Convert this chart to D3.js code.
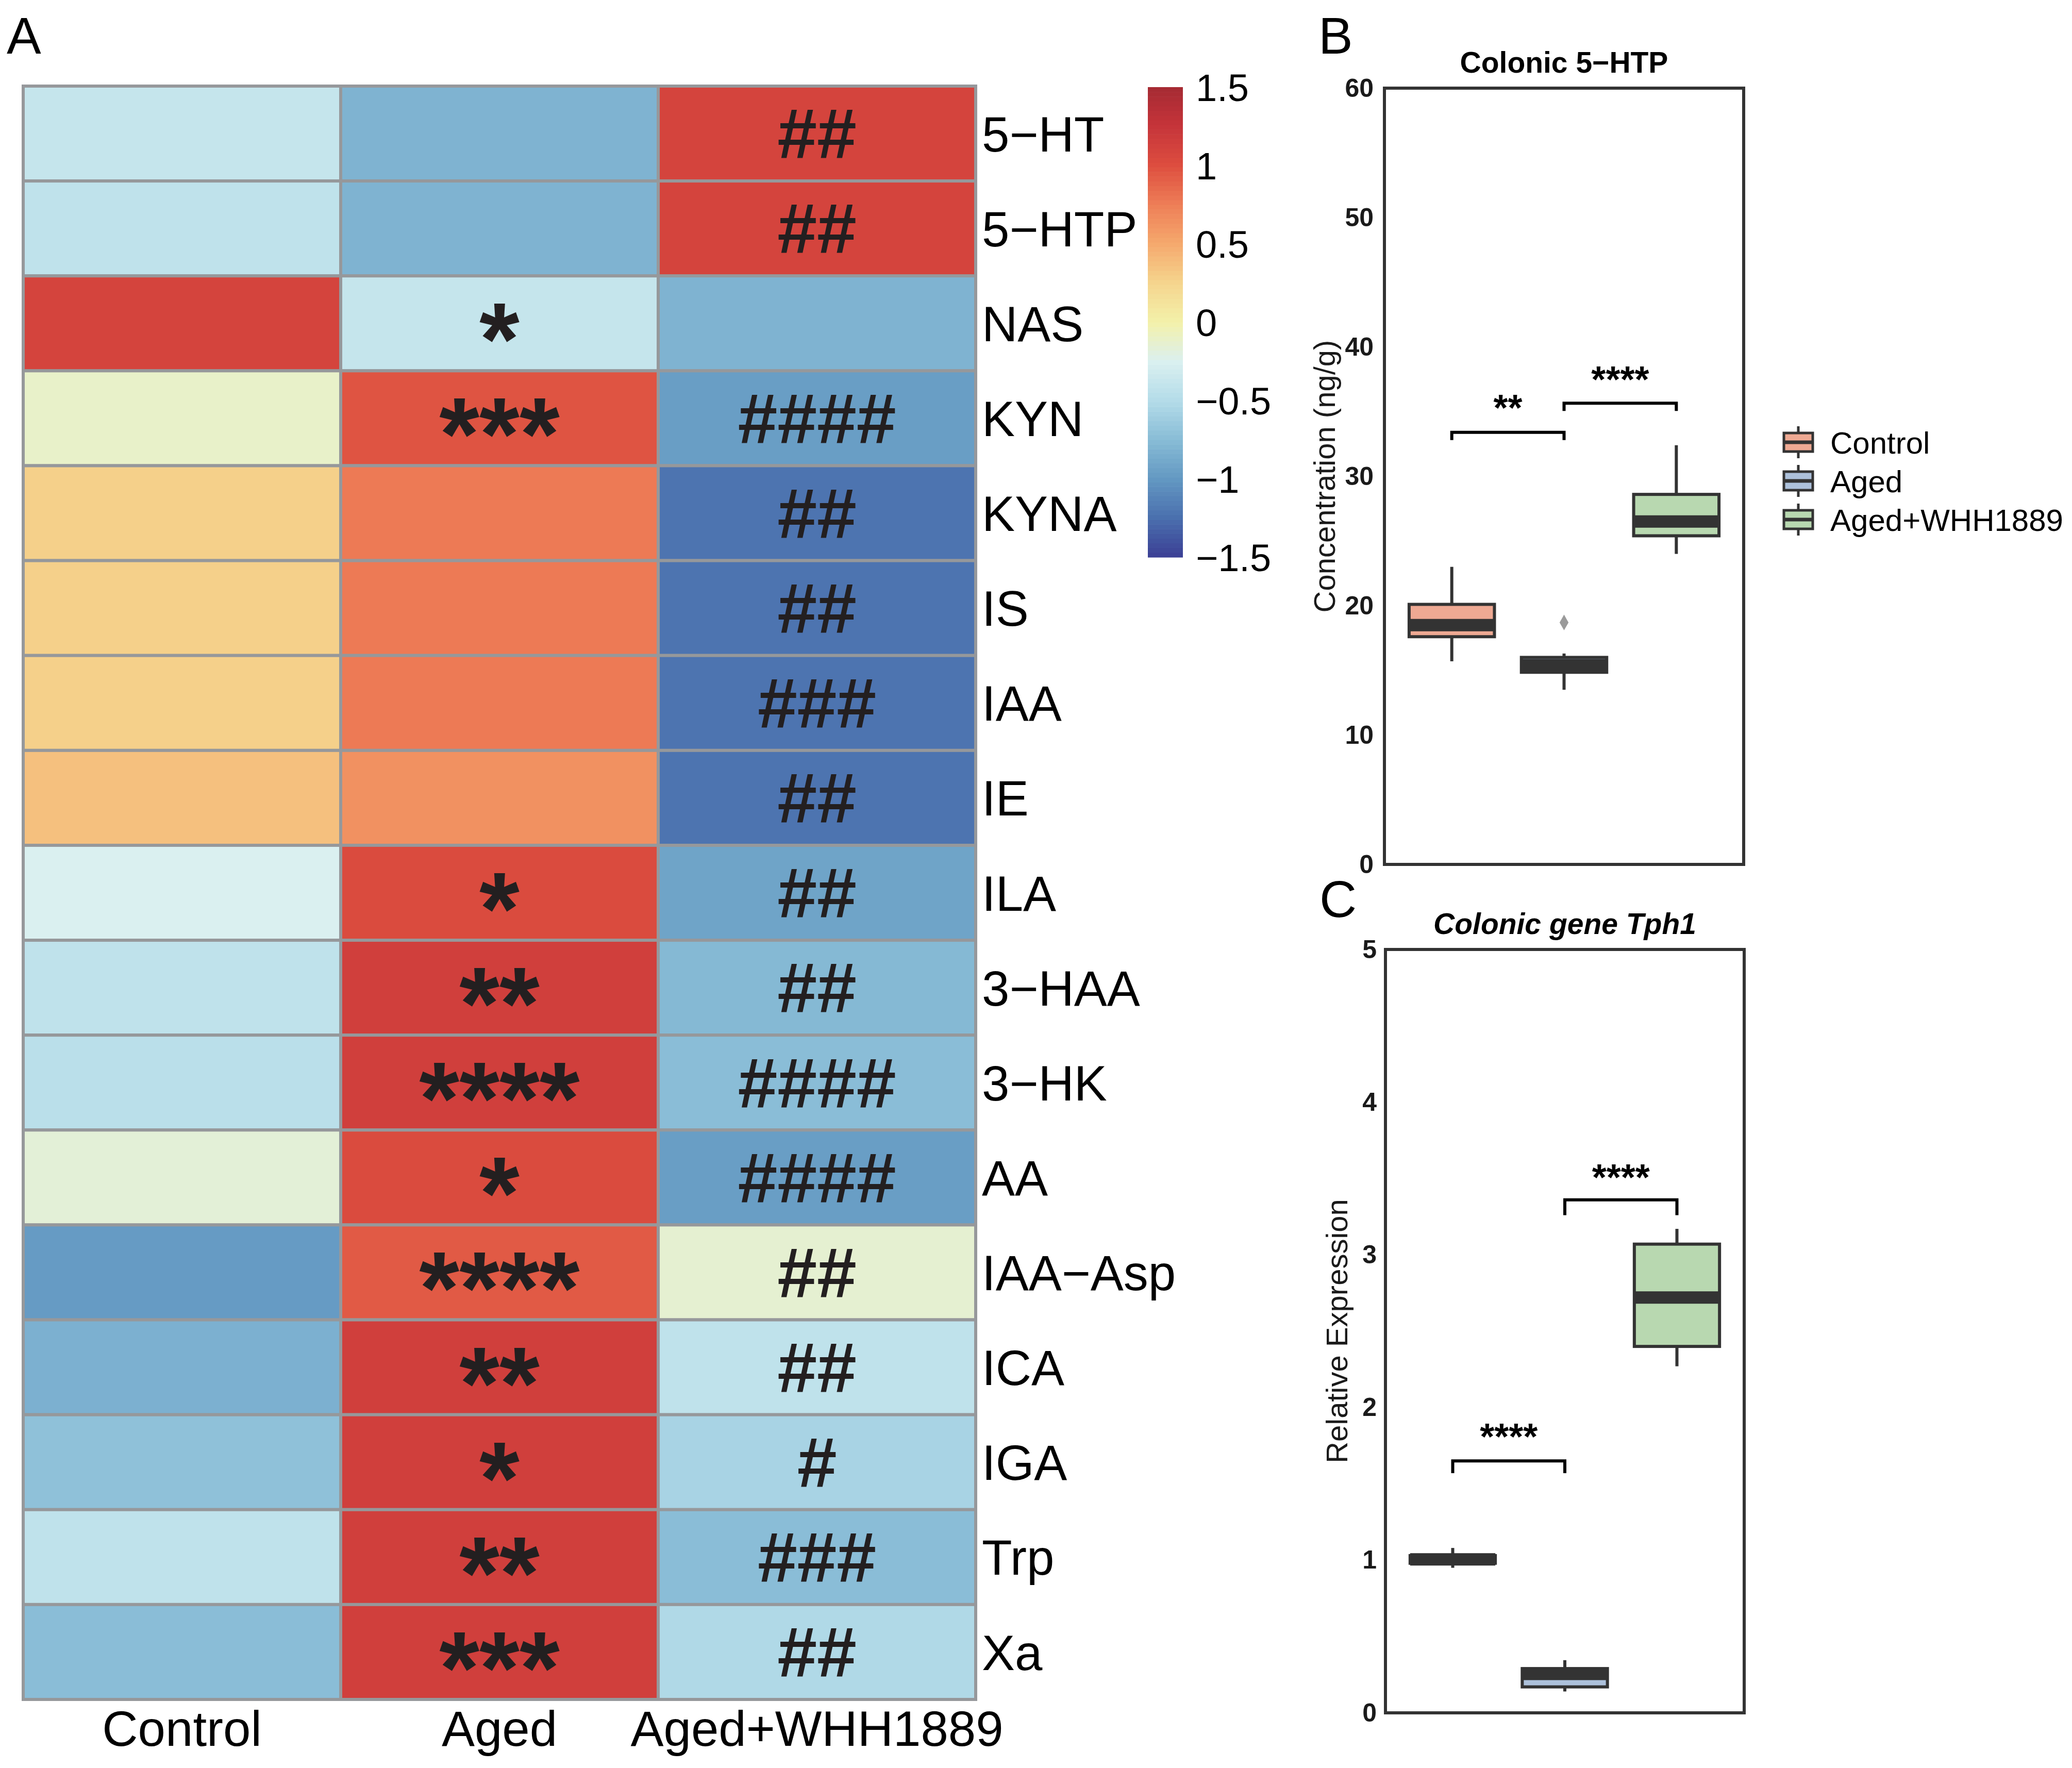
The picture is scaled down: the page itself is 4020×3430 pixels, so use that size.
<!DOCTYPE html>
<html>
<head>
<meta charset="utf-8">
<script src="https://cdn.jsdelivr.net/npm/d3@7"></script>
<style>
  body { margin: 0; background: #fff; }
  text { font-family: "Liberation Sans", Arial, Helvetica, sans-serif; }
</style>
</head>
<body>
<svg id="fig" width="4020" height="3430"></svg>
<script>
// ---- panel A data (row-scaled values) ----
const metabolites = ['5\u2212HT', '5\u2212HTP', 'NAS', 'KYN', 'KYNA', 'IS', 'IAA', 'IE', 'ILA',
    '3\u2212HAA', '3\u2212HK', 'AA', 'IAA\u2212Asp', 'ICA', 'IGA', 'Trp', 'Xa'];
const groups = ['Control', 'Aged', 'Aged+WHH1889'];
const zControl = [-0.39, -0.43, 1.10, -0.11, 0.28, 0.28, 0.28, 0.37, -0.25, -0.43, -0.46, -0.16, -0.98, -0.83, -0.71, -0.43, -0.74];
const zAged    = [-0.81, -0.81, -0.39, 0.97, 0.77, 0.77, 0.77, 0.64, 1.03, 1.14, 1.14, 1.03, 0.94, 1.14, 1.14, 1.14, 1.14];
const zWHH     = [1.10, 1.10, -0.81, -0.96, -1.22, -1.22, -1.22, -1.22, -0.92, -0.77, -0.74, -0.96, -0.14, -0.43, -0.57, -0.74, -0.52];
const sigAged  = ['', '', '*', '***', '', '', '', '', '*', '**', '****', '*', '****', '**', '*', '**', '***'];
const sigWHH   = ['##', '##', '', '####', '##', '##', '###', '##', '##', '##', '####', '####', '##', '##', '#', '###', '##'];

const paletteStops  = [-1.5, -1.25, -1, -0.75, -0.5, -0.25, 0, 0.25, 0.5, 0.75, 1, 1.25, 1.5];
const paletteColors = ['#3b3f94', '#4a6fae', '#6398c2', '#88bcd6', '#b4dce9', '#daf0f0', '#f3f1aa',
    '#f5d58e', '#f5a96d', '#ee7e57', '#dd4e3f', '#c6343a', '#a52a33'];
const barTicks = [1.5, 1, 0.5, 0, -0.5, -1, -1.5];

// ---- panel B: colonic 5-HTP (ng/g) ----
const htpQ1 = [17.6, 14.85, 25.4];
const htpMedian = [18.5, 15.4, 26.5];
const htpQ3 = [20.1, 16.0, 28.6];
const htpLow = [15.7, 13.5, 24.0];
const htpHigh = [23.0, 16.3, 32.4];
const htpOutliers = [[1, 18.7]];
const htpTicks = [0, 10, 20, 30, 40, 50, 60];
const htpBrackets = [[0, 1, 33.4, 32.8, 35.8, '**'], [1, 2, 35.65, 35.05, 38.0, '****']];

// ---- panel C: Tph1 relative expression ----
const tphQ1 = [0.98, 0.17, 2.40];
const tphMedian = [1.005, 0.255, 2.72];
const tphQ3 = [1.03, 0.29, 3.07];
const tphLow = [0.95, 0.14, 2.27];
const tphHigh = [1.08, 0.345, 3.17];
const tphTicks = [0, 1, 2, 3, 4, 5];
const tphBrackets = [[0, 1, 1.65, 1.57, 1.85, '****'], [1, 2, 3.36, 3.26, 3.55, '****']];

const groupColors = ['#eea993', '#adc1db', '#b8d8b0'];

const svg = d3.select('#fig');
svg.append('rect').attr('width', 4020).attr('height', 3430).attr('fill', '#fff');

const color = d3.scaleLinear().domain(paletteStops).range(paletteColors).interpolate(d3.interpolateRgb);

// ================= panel A =================
svg.append('text').attr('x', 13).attr('y', 104).attr('font-size', 100).text('A');

const xH = d3.scaleBand().domain(groups).range([45, 1893]);
const yH = d3.scaleBand().domain(metabolites).range([167, 3297]);
const zCols = [zControl, zAged, zWHH];

let cells = [];
metabolites.forEach(function(m, i) {
    groups.forEach(function(g, j) {
        cells.push({ m: m, g: g, v: zCols[j][i], sig: j == 1 ? sigAged[i] : (j == 2 ? sigWHH[i] : '') });
    });
});

let heat = svg.append('g');
heat.selectAll('rect.cell')
    .data(cells)
    .enter().append('rect')
    .attr('class', 'cell')
    .attr('x', function(d) { return xH(d.g); })
    .attr('y', function(d) { return yH(d.m); })
    .attr('width', xH.bandwidth())
    .attr('height', yH.bandwidth())
    .attr('fill', function(d) { return color(d.v); })
    .attr('stroke', '#96989b')
    .attr('stroke-width', 6);

heat.selectAll('text.sig')
    .data(cells.filter(function(d) { return d.sig != ''; }))
    .enter().append('text')
    .attr('class', 'sig')
    .attr('x', function(d) { return xH(d.g) + xH.bandwidth() / 2; })
    .attr('y', function(d) {
        let cy = yH(d.m) + yH.bandwidth() / 2;
        return d.sig[0] == '*' ? cy + 0.5 * 200 : cy + 0.35 * 138;
    })
    .attr('text-anchor', 'middle')
    .attr('font-size', function(d) { return d.sig[0] == '*' ? 200 : 138; })
    .attr('font-weight', 'bold')
    .attr('fill', '#231f20')
    .text(function(d) { return d.sig; });

heat.selectAll('text.row')
    .data(metabolites)
    .enter().append('text')
    .attr('class', 'row')
    .attr('x', 1905)
    .attr('y', function(d) { return yH(d) + yH.bandwidth() / 2; })
    .attr('dy', '0.36em')
    .attr('font-size', 96)
    .text(function(d) { return d; });

heat.selectAll('text.col')
    .data(groups)
    .enter().append('text')
    .attr('class', 'col')
    .attr('x', function(d) { return xH(d) + xH.bandwidth() / 2; })
    .attr('y', 3387)
    .attr('text-anchor', 'middle')
    .attr('font-size', 96)
    .text(function(d) { return d; });

// colour bar
const yCB = d3.scaleLinear().domain([-1.5, 1.5]).range([1081, 169]);
const nSteps = 100;
let steps = d3.range(nSteps).map(function(k) { return -1.5 + 3 * k / nSteps; });
let cbar = svg.append('g');
cbar.selectAll('rect')
    .data(steps)
    .enter().append('rect')
    .attr('x', 2227)
    .attr('width', 68)
    .attr('y', function(d) { return yCB(d + 3 / nSteps); })
    .attr('height', function(d) { return yCB(d) - yCB(d + 3 / nSteps) + 0.6; })
    .attr('fill', function(d) { return color(d + 1.5 / nSteps); });

cbar.selectAll('text')
    .data(barTicks)
    .enter().append('text')
    .attr('x', 2320)
    .attr('y', function(d) { return yCB(d); })
    .attr('dy', '0.36em')
    .attr('font-size', 74)
    .text(function(d) { return d < 0 ? '\u2212' + Math.abs(d) : String(d); });

// ================= boxplot helpers =================
function drawBoxPanel(opt) {
    let g = svg.append('g');
    let x = d3.scalePoint().domain(groups).range([opt.left, opt.right]).padding(0.6);
    let y = d3.scaleLinear().domain(opt.domain).range([opt.bottom, opt.top]);
    let w = x.step() * 0.76;

    g.append('text')
        .attr('x', opt.left - 128)
        .attr('y', opt.labelY)
        .attr('font-size', 100)
        .text(opt.label);

    g.append('text')
        .attr('x', (opt.left + opt.right) / 2)
        .attr('y', opt.top - 30)
        .attr('text-anchor', 'middle')
        .attr('font-size', 57)
        .attr('font-weight', 'bold')
        .attr('font-style', opt.italic ? 'italic' : 'normal')
        .text(opt.title);

    let axis = g.append('g')
        .attr('transform', 'translate(' + opt.left + ',0)')
        .call(d3.axisLeft(y).tickValues(opt.ticks).tickSize(0).tickPadding(opt.pad).tickFormat(d3.format('d')));
    axis.select('.domain').remove();
    axis.selectAll('text')
        .attr('font-size', 50)
        .attr('font-weight', 'bold')
        .attr('fill', '#1a1a1a')
        .style('font-family', '"Liberation Sans", Arial, sans-serif');

    g.append('text')
        .attr('transform', 'translate(' + opt.ylabX + ',' + (opt.top + opt.bottom) / 2 + ') rotate(-90)')
        .attr('text-anchor', 'middle')
        .attr('font-size', 58)
        .attr('fill', '#1a1a1a')
        .text(opt.ylab);

    groups.forEach(function(grp, i) {
        let cx = x(grp);
        g.append('line')
            .attr('x1', cx).attr('x2', cx)
            .attr('y1', y(opt.q3[i])).attr('y2', y(opt.hi[i]))
            .attr('stroke', '#333').attr('stroke-width', 6);
        g.append('line')
            .attr('x1', cx).attr('x2', cx)
            .attr('y1', y(opt.q1[i])).attr('y2', y(opt.lo[i]))
            .attr('stroke', '#333').attr('stroke-width', 6);
        g.append('rect')
            .attr('x', cx - w / 2)
            .attr('y', y(opt.q3[i]))
            .attr('width', w)
            .attr('height', y(opt.q1[i]) - y(opt.q3[i]))
            .attr('fill', groupColors[i])
            .attr('stroke', '#333')
            .attr('stroke-width', 6);
        g.append('line')
            .attr('x1', cx - w / 2).attr('x2', cx + w / 2)
            .attr('y1', y(opt.med[i])).attr('y2', y(opt.med[i]))
            .attr('stroke', '#333').attr('stroke-width', 24);
    });

    (opt.outliers || []).forEach(function(o) {
        g.append('path')
            .attr('d', d3.symbol().type(d3.symbolDiamond).size(260)())
            .attr('transform', 'translate(' + x(groups[o[0]]) + ',' + y(o[1]) + ')')
            .attr('fill', '#9a9a9a');
    });

    opt.brackets.forEach(function(b) {
        let x1 = x(groups[b[0]]), x2 = x(groups[b[1]]);
        let path = d3.path();
        path.moveTo(x1, y(b[3]));
        path.lineTo(x1, y(b[2]));
        path.lineTo(x2, y(b[2]));
        path.lineTo(x2, y(b[3]));
        g.append('path')
            .attr('d', path.toString())
            .attr('fill', 'none')
            .attr('stroke', '#000')
            .attr('stroke-width', 6);
        g.append('text')
            .attr('x', (x1 + x2) / 2)
            .attr('y', y(b[4]) + 0.52 * 72)
            .attr('text-anchor', 'middle')
            .attr('font-size', 72)
            .attr('font-weight', 'bold')
            .text(b[5]);
    });

    g.append('rect')
        .attr('x', opt.left).attr('y', opt.top)
        .attr('width', opt.right - opt.left)
        .attr('height', opt.bottom - opt.top)
        .attr('fill', 'none')
        .attr('stroke', '#333')
        .attr('stroke-width', 6);
}

drawBoxPanel({
    label: 'B', labelY: 104, title: 'Colonic 5\u2212HTP', italic: false,
    left: 2686, right: 3383, top: 171, bottom: 1677, domain: [0, 60],
    ticks: htpTicks, pad: 21, ylab: 'Concentration (ng/g)', ylabX: 2590,
    q1: htpQ1, med: htpMedian, q3: htpQ3, lo: htpLow, hi: htpHigh,
    outliers: htpOutliers, brackets: htpBrackets
});

drawBoxPanel({
    label: 'C', labelY: 1779, title: 'Colonic gene Tph1', italic: true,
    left: 2688, right: 3384, top: 1842, bottom: 3323, domain: [0, 5],
    ticks: tphTicks, pad: 17, ylab: 'Relative Expression', ylabX: 2614,
    q1: tphQ1, med: tphMedian, q3: tphQ3, lo: tphLow, hi: tphHigh,
    outliers: [], brackets: tphBrackets
});

// ================= legend =================
let legend = svg.append('g');
groups.forEach(function(grp, i) {
    let cy = 858 + i * 75;
    let cx = 3489;
    legend.append('line')
        .attr('x1', cx).attr('x2', cx)
        .attr('y1', cy - 31).attr('y2', cy + 31)
        .attr('stroke', '#333').attr('stroke-width', 5);
    legend.append('rect')
        .attr('x', cx - 28).attr('y', cy - 18)
        .attr('width', 56).attr('height', 36)
        .attr('fill', groupColors[i])
        .attr('stroke', '#333').attr('stroke-width', 5);
    legend.append('line')
        .attr('x1', cx - 28).attr('x2', cx + 28)
        .attr('y1', cy).attr('y2', cy)
        .attr('stroke', '#333').attr('stroke-width', 7);
    legend.append('text')
        .attr('x', 3551)
        .attr('y', cy)
        .attr('dy', '0.36em')
        .attr('font-size', 60)
        .text(grp);
});
</script>
</body>
</html>
